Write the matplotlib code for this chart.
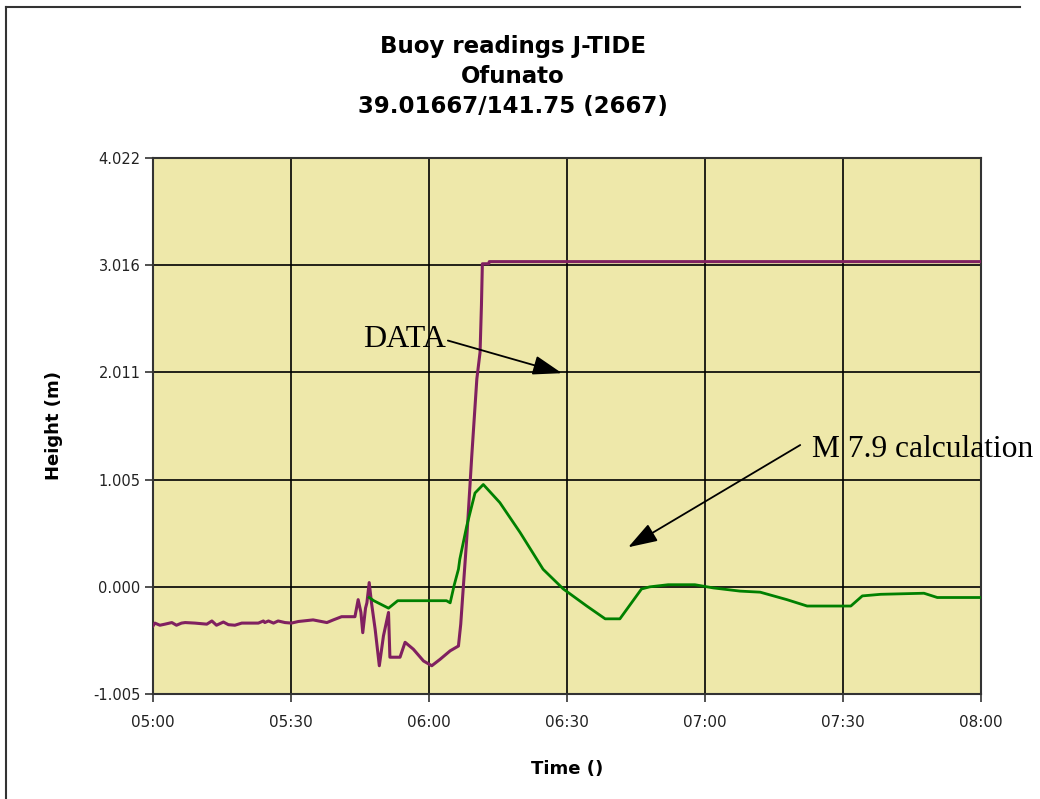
import matplotlib
matplotlib.use("Agg")
import matplotlib.pyplot as plt
from matplotlib.lines import Line2D

# ---- data (minutes after 05:00, height in m) ----
data_t = [0, 0.4, 1.5, 2.6, 4.1, 5.1, 6.2, 7.0, 9.1, 11.7, 12.8, 13.8, 15.3, 16.4,
          17.8, 19.3, 22.9, 24.0, 24.3, 25.1, 26.2, 27.2, 28.7, 30.1, 31.6, 34.8,
          37.8, 39.2, 41.0, 43.9, 44.6, 45.2, 45.6, 46.2, 46.5, 47.0, 47.5, 48.3,
          49.2, 50.1, 51.2, 51.5, 53.7, 54.8, 56.6, 58.8, 60.6, 62.4, 64.6, 66.4,
          66.9, 67.3, 68.2, 69.3, 70.4, 71.1, 71.4, 71.6, 73.0, 73.1, 180.0]
data_h = [-0.367, -0.34, -0.36, -0.35, -0.335, -0.36, -0.34, -0.335, -0.34, -0.35,
          -0.32, -0.36, -0.33, -0.355, -0.36, -0.34, -0.34, -0.32, -0.335, -0.32,
          -0.34, -0.32, -0.335, -0.34, -0.325, -0.31, -0.335, -0.31, -0.28, -0.28,
          -0.12, -0.24, -0.43, -0.20, -0.15, 0.04, -0.15, -0.40, -0.74, -0.46,
          -0.24, -0.66, -0.66, -0.52, -0.585, -0.695, -0.74, -0.68, -0.60, -0.555,
          -0.35, -0.10, 0.45, 1.23, 1.95, 2.20, 2.64, 3.03, 3.03, 3.05, 3.05]

calc_t = [47.0, 48.0, 51.2, 53.2, 63.8, 64.6, 65.5, 66.4, 66.7, 68.2, 70.0, 71.8,
          75.4, 79.8, 84.8, 89.2, 94.3, 98.3, 101.5, 106.2, 108.0, 112.0, 117.8,
          121.8, 127.6, 132.0, 137.8, 142.2, 151.7, 154.2, 158.2, 167.6, 170.5, 180.0]
calc_h = [-0.10, -0.13, -0.20, -0.13, -0.13, -0.15, 0.02, 0.165, 0.26, 0.57, 0.88,
          0.96, 0.79, 0.51, 0.165, -0.02, -0.18, -0.30, -0.30, -0.02, 0.0, 0.02,
          0.02, -0.01, -0.04, -0.05, -0.12, -0.18, -0.18, -0.085, -0.07, -0.06,
          -0.10, -0.10]

x_ticks = [0, 30, 60, 90, 120, 150, 180]
x_labels = ["05:00", "05:30", "06:00", "06:30", "07:00", "07:30", "08:00"]
y_ticks = [-1.005, 0.0, 1.005, 2.011, 3.016, 4.022]
y_labels = ["-1.005", "0.000", "1.005", "2.011", "3.016", "4.022"]

title_lines = ["Buoy readings J-TIDE", "Ofunato", "39.01667/141.75 (2667)"]

W, H = 1040, 799
fig = plt.figure(figsize=(W / 100, H / 100), dpi=100)
fig.patch.set_facecolor("white")

def fx(px):
    return px / W

def fy(py):
    return 1 - py / H

ax = fig.add_axes([fx(153), fy(694), fx(981) - fx(153), fy(158) - fy(694)])
ax.set_facecolor("#EEE8AA")

ax.plot(data_t, data_h, color="#802060", lw=2.2, zorder=3)
ax.plot(calc_t, calc_h, color="#008000", lw=2.0, zorder=3)

ax.set_xlim(0, 180)
ax.set_ylim(-1.005, 4.022)
ax.set_xticks(x_ticks)
ax.set_xticklabels(x_labels, fontsize=11, color="#222222")
ax.set_yticks(y_ticks)
ax.set_yticklabels(y_labels, fontsize=10.5, color="#222222")
ax.tick_params(direction="out", length=6, width=1.2, color="#333333")
ax.tick_params(axis="y", pad=3)
ax.tick_params(axis="x", pad=9)
ax.grid(True, color="black", lw=1.2)
ax.set_axisbelow(True)
for s in ax.spines.values():
    s.set_color("#333333")
    s.set_linewidth(1.5)

ax.set_xlabel("Time ()", fontsize=13, fontweight="bold", labelpad=22)
ax.set_ylabel("Height (m)", fontsize=13, fontweight="bold", labelpad=22)

for i, line in enumerate(title_lines):
    fig.text(fx(513), fy(46 + i * 30.5), line, ha="center", va="center",
             fontsize=16.5, fontweight="bold", color="black")

# annotations
arrow_style = "-|>,head_length=1.8,head_width=0.6"
ax.annotate("", xy=(88.9, 2.004), xytext=(64.1, 2.31),
            arrowprops=dict(arrowstyle=arrow_style, color="black", lw=1.3,
                            shrinkA=0, shrinkB=0), zorder=5)
ax.text(63.7, 2.32, "DATA", ha="right", va="center", fontsize=23,
        family="Liberation Serif", zorder=5)
ax.annotate("", xy=(103.3, 0.371), xytext=(140.7, 1.33),
            arrowprops=dict(arrowstyle=arrow_style, color="black", lw=1.3,
                            shrinkA=0, shrinkB=0), zorder=5)
ax.text(143.3, 1.29, "M 7.9 calculation", ha="left", va="center", fontsize=22.7,
        family="Liberation Serif", zorder=5, clip_on=False)

# outer frame (left and top edges)
fig.add_artist(Line2D([fx(6), fx(6)], [fy(7), fy(799)], color="#333333", lw=1.5))
fig.add_artist(Line2D([fx(6), fx(1020)], [fy(7), fy(7)], color="#333333", lw=1.5))

fig.savefig("out.png", dpi=100)
